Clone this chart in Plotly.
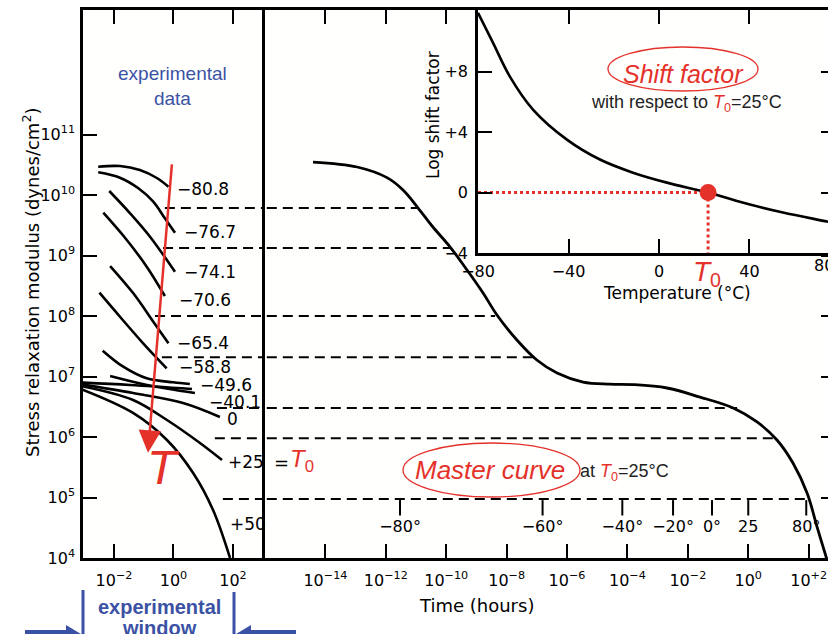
import plotly.graph_objects as go

W, H = 828, 634
def px(x): return x / W
def py(y): return 1 - y / H

RED = "#e4322b"
BLUE = "#3b52a4"
FONT = "DejaVu Sans"

# ---------------- data (log10 values) ----------------
# experimental relaxation curves: log10 time (h), log10 modulus (dyn/cm2)
exp_names = ["-80.8", "-76.7", "-74.1", "-70.6", "-65.4", "-58.8", "-49.6", "-40.1", "bundle", "0", "+25", "+50"]
exp_logt = [
    [-2.53, -1.80, -1.13, -0.56, -0.17],
    [-2.53, -1.80, -1.18, -0.68, -0.29, 0.05],
    [-2.16, -1.46, -0.79, 0.05],
    [-2.36, -1.57, -0.90, -0.29],
    [-2.13, -1.35, -0.68, -0.17],
    [-2.49, -1.80, -1.02, -0.23],
    [-2.38, -1.69, -0.90, -0.01, 0.55],
    [-2.13, -0.89, 0.72],
    [-3.10, -1.46, 0.62],
    [-3.10, -1.36, 0.32, 1.56],
    [-3.10, -1.36, -0.22, 0.89, 1.63],
    [-3.10, -1.36, -0.22, 0.66, 1.33, 1.90],
]
exp_logG = [
    [10.468, 10.479, 10.413, 10.281, 10.137],
    [10.375, 10.286, 10.111, 9.889, 9.615, 9.377],
    [10.066, 9.698, 9.311, 8.732],
    [9.707, 9.256, 8.815, 8.331],
    [8.826, 8.375, 7.906, 7.549],
    [8.385, 7.988, 7.549, 7.136],
    [7.427, 7.162, 6.970, 6.904, 6.876],
    [7.008, 6.860, 6.727],
    [6.90, 6.860, 6.793],
    [6.87, 6.727, 6.562, 6.331],
    [6.84, 6.612, 6.281, 5.901, 5.620],
    [6.79, 6.397, 5.950, 5.405, 4.793, 4.0],
]
exp_labels = ["\u221280.8", "\u221276.7", "\u221274.1", "\u221270.6", "\u221265.4", "\u221258.8",
              "\u221249.6", "\u221240.1", "0", "+25", "+50"]

# master curve at T0 = 25 C
master_logt = [-14.41, -12.95, -11.96, -11.43, -10.93, -10.44, -9.87, -9.31, -8.78, -8.32, -7.66,
               -7.00, -6.33, -5.47, -4.58, -3.81, -2.69, -1.60, -0.50, 0.29, 0.95, 1.48, 1.95,
               2.28, 2.54, 2.62]
master_logG = [10.545, 10.463, 10.287, 10.083, 9.785, 9.471, 9.140, 8.760, 8.380, 8.017, 7.603,
               7.273, 7.058, 6.909, 6.875, 6.866, 6.81, 6.66, 6.48, 6.25, 5.95, 5.57, 5.07,
               4.51, 4.08, 3.95]

# horizontal dashed connectors
dash_logG = [9.785, 9.124, 8.0, 7.32, 6.48, 5.98, 4.975]
dash_start_logt = [-0.29, -0.35, -0.62, -0.39, 1.46, 1.39, 1.66]
dash_end_logt = [-10.93, -9.87, -8.38, -7.13, -0.37, 0.82, 2.05]

# temperature marks on the master curve time axis
temp_text = ["\u221280\u00b0", "\u221260\u00b0", "\u221240\u00b0", "\u221220\u00b0", "0\u00b0", "25", "80\u00b0"]
temp_logt = [-11.53, -6.81, -4.17, -2.49, -1.2, 0.0, 1.92]
temp_mark_logG = 4.83
temp_text_logG = 4.5

# shift factor vs temperature
sf_T = [-80, -73.4, -65.9, -55.7, -40.7, -26.1, -11.5, 3.5, 21.7, 40.2, 54.8, 74.3, 80]
sf_log = [11.9, 9.93, 7.68, 5.50, 3.51, 2.19, 1.32, 0.66, 0.0, -0.79, -1.32, -1.92, -2.1]
T0_drawn = 21.7

left_ticks = [-2, 0, 2]
left_ticktext = ["10<sup>\u22122</sup>", "10<sup>0</sup>", "10<sup>2</sup>"]
master_ticks = [-14, -12, -10, -8, -6, -4, -2, 0, 2]
master_ticktext = ["10<sup>\u221214</sup>", "10<sup>\u221212</sup>", "10<sup>\u221210</sup>", "10<sup>\u22128</sup>",
                   "10<sup>\u22126</sup>", "10<sup>\u22124</sup>", "10<sup>\u22122</sup>", "10<sup>0</sup>", "10<sup>+2</sup>"]
y_ticks = [4, 5, 6, 7, 8, 9, 10, 11]
y_ticktext = ["10<sup>%d</sup>" % v for v in y_ticks]
inset_xticks = [-80, -40, 0, 40]
inset_xticktext = ["\u221280", "\u221240", "0", "40"]
inset_yticks = [-4, 0, 4, 8]
inset_yticktext = ["\u22124", "0", "+4", "+8"]

LEFT_RANGE = [-3.042, 3.076]
MASTER_RANGE = [-16.0, 2.64]
Y_RANGE = [4.0, 13.058]
INSET_X = [-80, 74.7]
INSET_Y = [-4, 12.09]

fig = go.Figure()
p10 = lambda arr: [10 ** v for v in arr]

for lt, lg in zip(exp_logt, exp_logG):
    fig.add_trace(go.Scatter(x=p10(lt), y=p10(lg), mode="lines", line=dict(color="black", width=2.6, shape="spline"),
                             xaxis="x", yaxis="y", showlegend=False, hoverinfo="skip"))

for g, s, e in zip(dash_logG, dash_start_logt, dash_end_logt):
    fig.add_trace(go.Scatter(x=p10([s, LEFT_RANGE[1] + 1]), y=p10([g, g]), mode="lines",
                             line=dict(color="black", width=2, dash="10px,6px"), xaxis="x", yaxis="y",
                             showlegend=False, hoverinfo="skip"))
    fig.add_trace(go.Scatter(x=p10([MASTER_RANGE[0] - 1, e]), y=p10([g, g]), mode="lines",
                             line=dict(color="black", width=2, dash="10px,6px"), xaxis="x2", yaxis="y2",
                             showlegend=False, hoverinfo="skip"))

fig.add_trace(go.Scatter(x=p10(master_logt), y=p10(master_logG), mode="lines",
                         line=dict(color="black", width=2.8, shape="spline"), xaxis="x2", yaxis="y2",
                         showlegend=False, hoverinfo="skip"))

fig.add_trace(go.Scatter(x=p10(temp_logt), y=[10 ** temp_mark_logG] * len(temp_logt), mode="markers",
                         marker=dict(symbol="line-ns", size=11, line=dict(color="black", width=2)),
                         xaxis="x2", yaxis="y2", showlegend=False, hoverinfo="skip"))
fig.add_trace(go.Scatter(x=p10(temp_logt), y=[10 ** temp_text_logG] * len(temp_logt), mode="text",
                         text=temp_text, textposition="middle center",
                         textfont=dict(family=FONT, size=16, color="black"),
                         xaxis="x2", yaxis="y2", showlegend=False, hoverinfo="skip"))

fig.add_trace(go.Scatter(x=[], y=[], xaxis="x2", yaxis="y4", showlegend=False))
fig.add_trace(go.Scatter(x=[], y=[], xaxis="x3", yaxis="y5", showlegend=False))

# inset
fig.add_trace(go.Scatter(x=sf_T, y=sf_log, mode="lines", line=dict(color="black", width=2.6, shape="spline"),
                         xaxis="x3", yaxis="y3", showlegend=False, hoverinfo="skip"))
fig.add_trace(go.Scatter(x=[INSET_X[0], T0_drawn], y=[0, 0], mode="lines",
                         line=dict(color=RED, width=3, dash="dot"), xaxis="x3", yaxis="y3", showlegend=False))
fig.add_trace(go.Scatter(x=[T0_drawn, T0_drawn], y=[0, INSET_Y[0]], mode="lines",
                         line=dict(color=RED, width=3, dash="dot"), xaxis="x3", yaxis="y3", showlegend=False))
fig.add_trace(go.Scatter(x=[T0_drawn], y=[0], mode="markers", marker=dict(color=RED, size=17),
                         xaxis="x3", yaxis="y3", showlegend=False))

axis_common = dict(showgrid=False, zeroline=False, showline=True, linecolor="black", linewidth=2.5,
                   ticks="inside", tickcolor="black", tickwidth=2.2, ticklen=14,
                   tickfont=dict(family=FONT, size=16, color="black"))

fig.update_layout(
    width=W, height=H, margin=dict(l=0, r=0, t=0, b=0, autoexpand=False),
    paper_bgcolor="#ffffff", plot_bgcolor="#fffffe",
    font=dict(family=FONT, color="black"),
    xaxis=dict(domain=[px(83), px(265)], type="log", range=LEFT_RANGE, anchor="y",
               tickvals=p10(left_ticks), ticktext=left_ticktext, mirror="ticks", ticklabelstandoff=6, **axis_common),
    yaxis=dict(domain=[py(558), py(10)], type="log", range=Y_RANGE, anchor="x",
               tickvals=p10(y_ticks), ticktext=y_ticktext, ticklabelstandoff=2, **axis_common),
    xaxis2=dict(domain=[px(265), 1.0], type="log", range=MASTER_RANGE, anchor="y2",
                tickvals=p10(master_ticks), ticktext=master_ticktext, mirror="ticks", ticklabelstandoff=6,
                **axis_common),
    yaxis2=dict(domain=[py(558), py(10)], type="log", range=Y_RANGE, anchor="x2", showticklabels=False,
                showgrid=False, zeroline=False, showline=True, linecolor="black", linewidth=2.5, ticks=""),
    yaxis4=dict(type="log", range=Y_RANGE, anchor="x2", overlaying="y2", side="right",
                tickvals=p10([5, 6, 7, 8, 9, 10, 11, 12]), showticklabels=False, showline=False,
                showgrid=False, zeroline=False, ticks="inside", ticklen=7, tickwidth=2.2, tickcolor="black"),
    xaxis3=dict(domain=[px(478), 1.0], range=INSET_X, anchor="y3", tickvals=inset_xticks,
                ticktext=inset_xticktext, mirror="ticks", ticklabelstandoff=2, **axis_common),
    yaxis3=dict(domain=[py(253), py(10)], range=INSET_Y, anchor="x3", tickvals=inset_yticks,
                ticktext=inset_yticktext, ticklabelstandoff=4, **axis_common),
    yaxis5=dict(range=INSET_Y, anchor="x3", overlaying="y3", side="right", tickvals=[0, 4, 8],
                showticklabels=False, showline=False, showgrid=False, zeroline=False,
                ticks="inside", ticklen=7, tickwidth=2.2, tickcolor="black"),
)

ann = []
def text(x, y, s, size=15, color="black", xanchor="center", yanchor="middle", angle=0, family=FONT, **kw):
    ann.append(dict(x=px(x), y=py(y), xref="paper", yref="paper", text=s, showarrow=False,
                    font=dict(family=family, size=size, color=color), xanchor=xanchor, yanchor=yanchor,
                    textangle=angle, **kw))

text(31, 283, "Stress relaxation modulus (dynes/cm<sup>2</sup>)", size=18, angle=-90)
text(476, 605, "Time (hours)", size=18)
text(677, 293, "Temperature (\u00b0C)", size=17)
text(433, 115, "Log shift factor", size=17, angle=-90)

label_pos = [(175, 189), (182, 232), (182, 272), (177, 300), (175, 343), (177, 367), (198, 385),
             (207, 402), (225, 419), (226, 462), (228, 524)]
for lab, (x, y) in zip(exp_labels, label_pos):
    text(x, y, lab, size=17, xanchor="left")

text(272, 462, "=", size=18, xanchor="left")
text(288, 460, "<i>T</i><sub>0</sub>", size=24, color=RED, xanchor="left", family="Liberation Sans")
text(163, 467, "<i>T</i>", size=48, color=RED, family="Liberation Sans")
text(172, 86, "experimental<br>data", size=19, color=BLUE, family="Liberation Sans")
text(683, 74, "<i>Shift factor</i>", size=25, color=RED, family="Liberation Sans")
text(686, 104, "with respect to <i><span style='color:%s'>T</span></i><sub><span style='color:%s'>0</span></sub>=25\u00b0C" % (RED, RED),
     size=18, color="#222222", family="Liberation Sans")
text(490, 470, "<i>Master curve</i>", size=26, color=RED, family="Liberation Sans")
text(578, 472, "at <i><span style='color:%s'>T</span></i><sub><span style='color:%s'>0</span></sub>=25\u00b0C" % (RED, RED),
     size=18, color="#222222", family="Liberation Sans", xanchor="left")
text(707, 273, "<i>T</i><sub>0</sub>", size=28, color=RED, family="Liberation Sans")
text(812, 265, "80", size=16, xanchor="left")
text(159, 607, "<b>experimental</b>", size=20, color=BLUE, family="Liberation Sans")
text(159, 628, "<b>window</b>", size=20, color=BLUE, family="Liberation Sans")

# red temperature arrow in the experimental panel
ann.append(dict(x=-0.857, y=5.74, ax=-0.05, ay=10.53, xref="x", yref="y", axref="x", ayref="y",
                text="", showarrow=True, arrowhead=2, arrowsize=1.8, arrowwidth=2.5, arrowcolor=RED))
fig.update_layout(annotations=ann)

shapes = [
    dict(type="circle", xref="paper", yref="paper", x0=px(608), x1=px(758), y0=py(47), y1=py(91),
         line=dict(color=RED, width=1.3)),
    dict(type="circle", xref="paper", yref="paper", x0=px(403), x1=px(580), y0=py(443), y1=py(497),
         line=dict(color=RED, width=1.3)),
    dict(type="line", xref="paper", yref="paper", x0=px(83), x1=px(83), y0=py(590), y1=py(640),
         line=dict(color=BLUE, width=3)),
    dict(type="line", xref="paper", yref="paper", x0=px(234), x1=px(234), y0=py(592), y1=py(640),
         line=dict(color=BLUE, width=3)),
    dict(type="line", xref="paper", yref="paper", x0=px(25), x1=px(70), y0=py(634), y1=py(634),
         line=dict(color=BLUE, width=8)),
    dict(type="path", xref="paper", yref="paper",
         path="M %f %f L %f %f L %f %f Z" % (px(66), py(625), px(81), py(634), px(66), py(643)),
         fillcolor=BLUE, line=dict(color=BLUE, width=0)),
    dict(type="line", xref="paper", yref="paper", x0=px(248), x1=px(296), y0=py(634), y1=py(634),
         line=dict(color=BLUE, width=8)),
    dict(type="path", xref="paper", yref="paper",
         path="M %f %f L %f %f L %f %f Z" % (px(251), py(625), px(236), py(634), px(251), py(643)),
         fillcolor=BLUE, line=dict(color=BLUE, width=0)),
]
fig.update_layout(shapes=shapes)

fig.write_html("out.html")
